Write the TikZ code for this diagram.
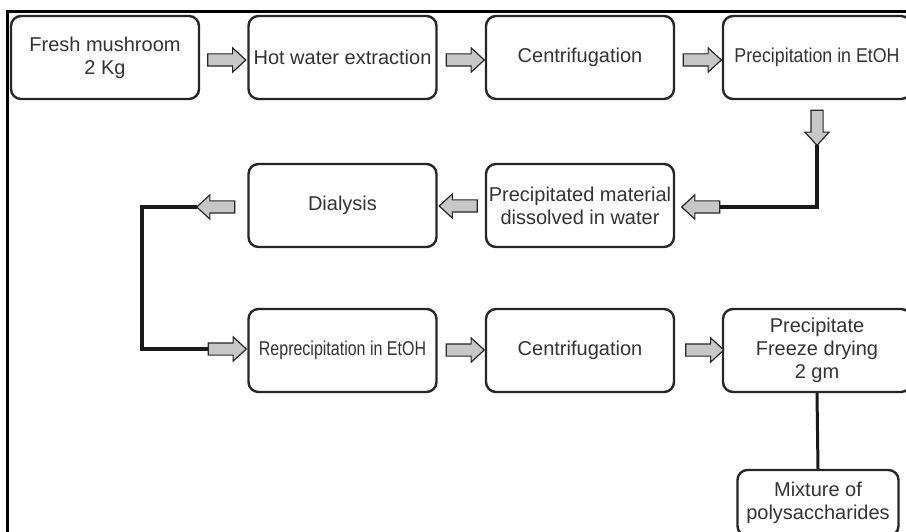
\documentclass[tikz,border=0pt]{standalone}
\usepackage{fontspec}
\setmainfont{Liberation Sans}
\usepackage{graphicx}
\usetikzlibrary{shapes.arrows}
\tikzset{
  box/.style={draw=black!85, line width=2.4pt, rounded corners=10pt,
    minimum width=188pt, minimum height=83pt, inner sep=0pt, align=center,
    text=black!80, font=\fontsize{20}{23}\selectfont},
  barrow/.style={single arrow, draw=black!85, fill=black!22, line width=1.2pt,
    inner xsep=0pt, inner ysep=5.5pt, minimum height=38pt,
    single arrow head extend=6pt, single arrow tip angle=85, outer sep=0pt},
  conn/.style={draw=black!90, line width=3.5pt},
  frameline/.style={draw=black, line width=3pt}
}
\begin{document}
\begin{tikzpicture}[x=1pt,y=-1pt]
\useasboundingbox (0,0) rectangle (906,532);
\clip (0,0) rectangle (906,532);
\fill[white] (0,0) rectangle (906,532);
\draw[frameline] (7,535) -- (7,12) -- (910,12);
% row 1
\node[box] (b1) at (105,57.5) {Fresh mushroom\\2 Kg};
\node[box] (b2) at (342.5,57.5) {Hot water extraction};
\node[box] (b3) at (580,57.5) {Centrifugation};
\node[box] (b4) at (817,57.5) {\scalebox{0.89}[1]{Precipitation in EtOH}};
% row 2
\node[box] (b5) at (580,205.5) {Precipitated material\\dissolved in water};
\node[box] (b6) at (342.5,205.5) {Dialysis};
% row 3
\node[box] (b7) at (342.5,350.5) {\scalebox{0.8}[1]{Reprecipitation in EtOH}};
\node[box] (b8) at (580,350.5) {Centrifugation};
\node[box] (b9) at (817,350.5) {Precipitate\\Freeze drying\\2 gm};
\node[box, minimum width=161pt, minimum height=66pt] (b10) at (818,503) {Mixture of\\polysaccharides};
% block arrows
\node[barrow] (a1) at (223.5,60) {};
\node[barrow] (a2) at (462,60) {};
\node[barrow] (a3) at (699,60) {};
\node[barrow, minimum height=35pt, rotate=-90] (ad) at (817,124.5) {};
\node[barrow, rotate=180] (al) at (704,207) {};
\node[barrow, rotate=180] (a5) at (461.5,206) {};
\node[barrow, rotate=180] (a6) at (219,207) {};
\node[barrow] (a7) at (224,349) {};
\node[barrow] (a8) at (462,350) {};
\node[barrow] (a9) at (701.5,350) {};
% connectors
\coordinate (c1) at (142,207);
\coordinate (c2) at (142,349);
\draw[conn] (ad.tip) |- (al.tail);
\draw[conn] (a6.tip) -- (c1) -- (c2) -- (a7.tail);
\draw[conn, line width=3pt] (b9.south) -- (b10.north);
\end{tikzpicture}
\end{document}
